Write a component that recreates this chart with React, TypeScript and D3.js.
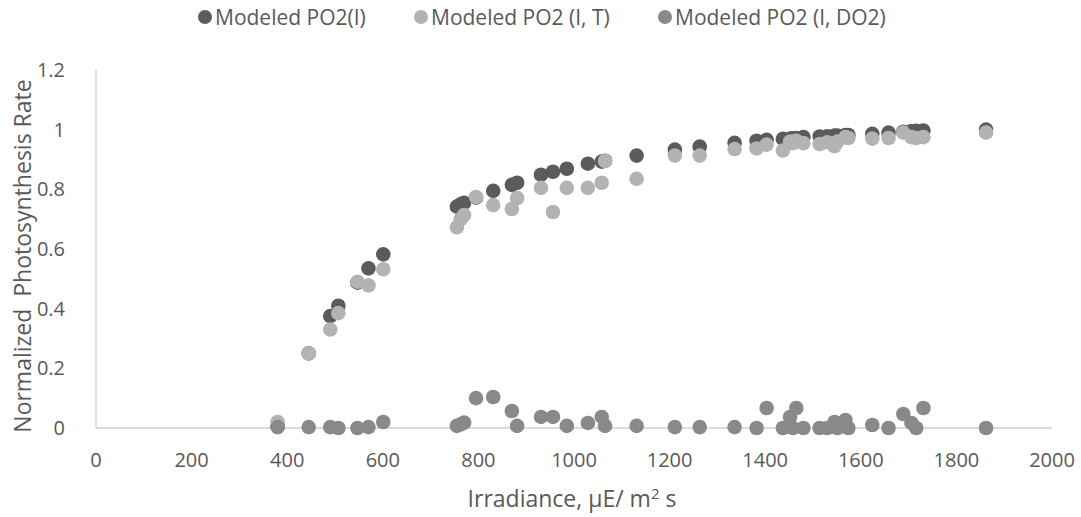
import React from "react";
import * as d3 from "d3";

const irradiance = [380, 445, 490, 507, 547, 570, 601, 755, 763, 770, 795, 831, 870, 881, 931, 956, 985, 1029, 1058, 1065, 1131, 1211, 1263, 1336, 1382, 1403, 1437, 1452, 1458, 1465, 1480, 1514, 1530, 1545, 1551, 1568, 1574, 1624, 1658, 1689, 1706, 1716, 1731, 1862];

const po2I = [0.005, 0.25, 0.375, 0.41, 0.487, 0.535, 0.582, 0.742, 0.75, 0.755, 0.772, 0.795, 0.815, 0.822, 0.849, 0.859, 0.869, 0.886, 0.893, 0.896, 0.913, 0.933, 0.943, 0.956, 0.963, 0.966, 0.969, 0.97, 0.971, 0.972, 0.975, 0.977, 0.978, 0.98, 0.98, 0.982, 0.982, 0.986, 0.99, 0.993, 0.995, 0.996, 0.997, 1.0];

const po2IT = [0.02, 0.25, 0.33, 0.385, 0.49, 0.478, 0.532, 0.673, 0.7, 0.714, 0.774, 0.747, 0.734, 0.771, 0.805, 0.724, 0.805, 0.805, 0.822, 0.895, 0.835, 0.913, 0.913, 0.935, 0.937, 0.95, 0.93, 0.96, 0.955, 0.963, 0.955, 0.952, 0.958, 0.945, 0.96, 0.975, 0.972, 0.97, 0.972, 0.99, 0.975, 0.972, 0.975, 0.99];

const po2IDO2 = [0.003, 0.003, 0.003, 0, 0, 0.003, 0.02, 0.007, 0.012, 0.018, 0.1, 0.104, 0.057, 0.007, 0.037, 0.037, 0.007, 0.017, 0.037, 0.007, 0.007, 0.003, 0.003, 0.003, 0, 0.067, 0, 0.037, 0, 0.067, 0, 0, 0, 0.02, 0, 0.027, 0, 0.01, 0, 0.047, 0.017, 0, 0.067, 0];

const xTicks = [0, 200, 400, 600, 800, 1000, 1200, 1400, 1600, 1800, 2000];
const yTicks = [0, 0.2, 0.4, 0.6, 0.8, 1, 1.2];

const seriesNames = ["Modeled PO2(I)", "Modeled PO2 (I, T)", "Modeled PO2 (I, DO2)"];
const seriesColors = ["#5b5b5b", "#b3b3b3", "#898989"];
const seriesValues = [po2I, po2IT, po2IDO2];

export default function App() {
  const W = 1081;
  const H = 517;
  const x = d3.scaleLinear().domain([0, 2000]).range([96, 1052]);
  const y = d3.scaleLinear().domain([0, 1.2]).range([428, 70]);
  const font = "'Open Sans', 'Noto Sans', sans-serif";
  const textColor = "#595959";
  const legendX = [205, 421, 665];

  return (
    <div style={{ position: "fixed", left: 0, top: 0 }}>
      <svg width={W} height={H} style={{ display: "block", background: "#fff" }}>
        {/* axes */}
        <line x1={x(0)} x2={x(0)} y1={y(1.2)} y2={y(0)} stroke="#bfbfbf" strokeWidth={1} />
        <line x1={x(0)} x2={x(2000)} y1={y(0)} y2={y(0)} stroke="#d0d0d0" strokeWidth={1.5} />

        {/* y tick labels */}
        {yTicks.map((t) => (
          <text key={"y" + t} x={65} y={y(t) + 7} textAnchor="end" fontFamily={font} fontSize={20} fill={textColor}>
            {d3.format("~g")(t)}
          </text>
        ))}
        {/* x tick labels */}
        {xTicks.map((t) => (
          <text key={"x" + t} x={x(t)} y={467} textAnchor="middle" fontFamily={font} fontSize={20} fill={textColor}>
            {t}
          </text>
        ))}

        {/* series */}
        {seriesValues.map((vals, si) => (
          <g key={"s" + si}>
            {vals.map((v, i) => (
              <circle key={i} cx={x(irradiance[i])} cy={y(v)} r={7.3} fill={seriesColors[si]} />
            ))}
          </g>
        ))}

        {/* axis titles */}
        <text x={572} y={507} textAnchor="middle" fontFamily={font} fontSize={23} fill={textColor}>
          Irradiance, μE/ m
          <tspan dy={-8} fontSize={15}>2</tspan>
          <tspan dy={8}> s</tspan>
        </text>
        <text
          transform={`translate(31, ${(y(0) + y(1.2)) / 2 + 7}) rotate(-90)`}
          textAnchor="middle"
          fontFamily={font}
          fontSize={23}
          fill={textColor}
          style={{ whiteSpace: "pre" }}
        >
          {"Normalized  Photosynthesis Rate"}
        </text>

        {/* legend */}
        {seriesNames.map((n, i) => (
          <g key={"l" + i}>
            <circle cx={legendX[i]} cy={17} r={7} fill={seriesColors[i]} />
            <text x={legendX[i] + 10} y={24.5} fontFamily={font} fontSize={21} fill={textColor}>
              {n}
            </text>
          </g>
        ))}
      </svg>
    </div>
  );
}
